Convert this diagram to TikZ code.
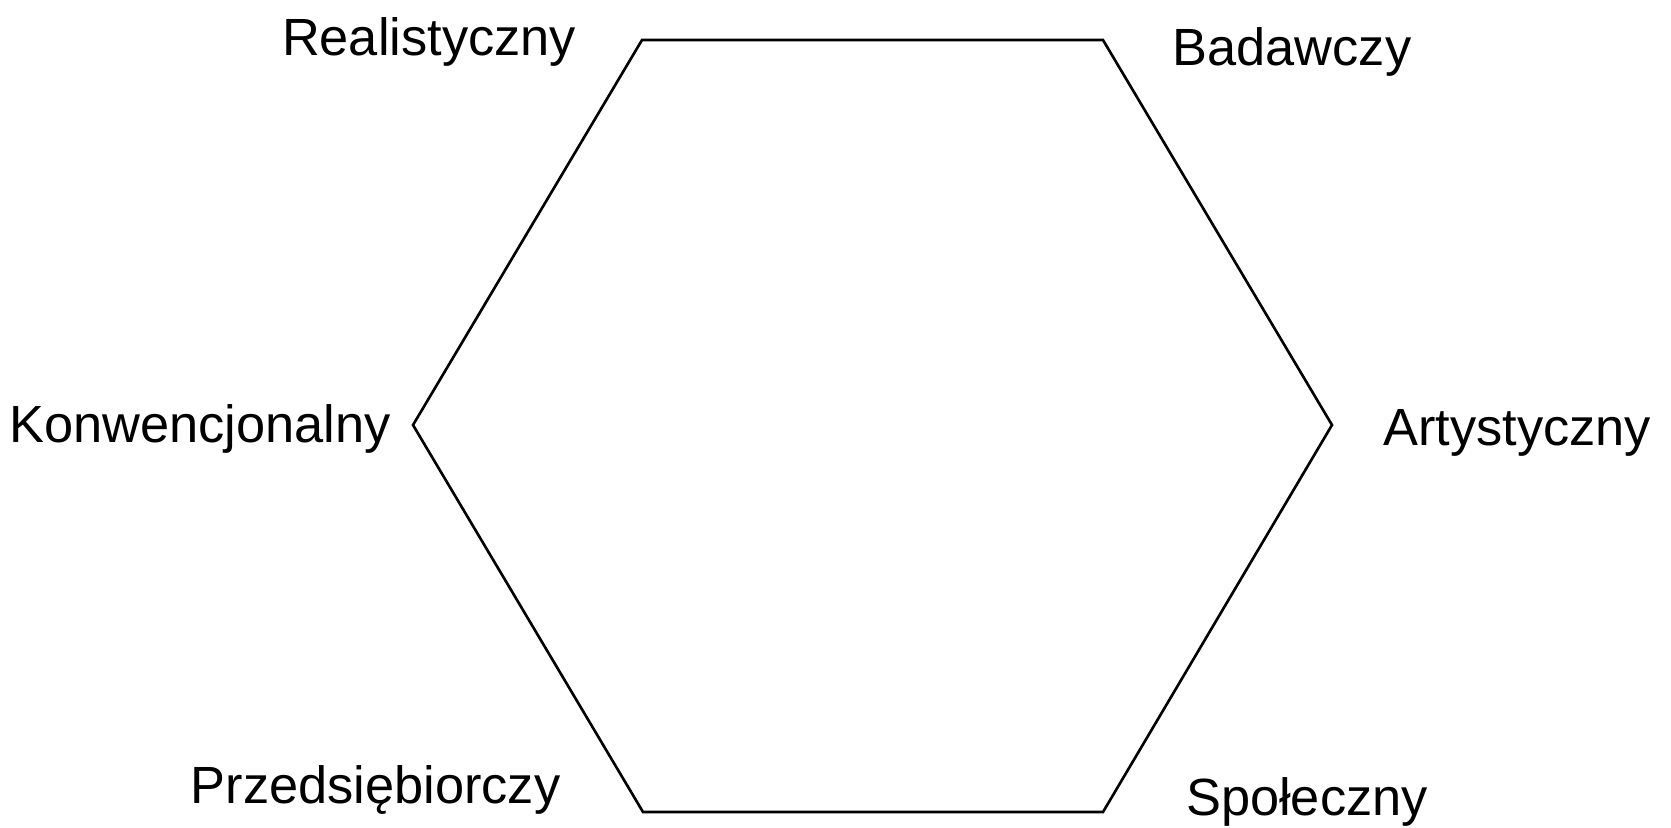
\documentclass[tikz,border=0pt]{standalone}
\usepackage{fontspec}
\setmainfont{Liberation Sans}
\usepackage{tikz}
\usepackage{xcolor}

\begin{document}
\begin{tikzpicture}[
    typ/.style={anchor=base, inner sep=0pt, font=\fontsize{14.9}{17}\selectfont},
    edge/.style={draw=black, line width=0.75pt, line join=miter}
  ]
    \useasboundingbox (0,0) rectangle (16.71,8.27);
    % corners of the hexagon
    \coordinate (R) at (6.42,7.87);
    \coordinate (I) at (11.03,7.87);
    \coordinate (A) at (13.32,4.02);
    \coordinate (S) at (11.03,0.15);
    \coordinate (E) at (6.43,0.15);
    \coordinate (C) at (4.13,4.02);
    \draw[edge] (R) -- (I) -- (A) -- (S) -- (E) -- (C) -- cycle;
    % labels
    \node[typ] (real) at (4.29,7.72) {Realistyczny};
    \node[typ] (bad) at (12.92,7.62) {Badawczy};
    \node[typ] (art) at (15.17,3.82) {Artystyczny};
    \node[typ] (spol) at (13.07,0.12) {Społeczny};
    \node[typ] (przed) at (3.755,0.24) {Przedsiębiorczy};
    \node[typ] (konw) at (2.00,3.85) {Konwencjonalny};
  \end{tikzpicture}
\end{document}
